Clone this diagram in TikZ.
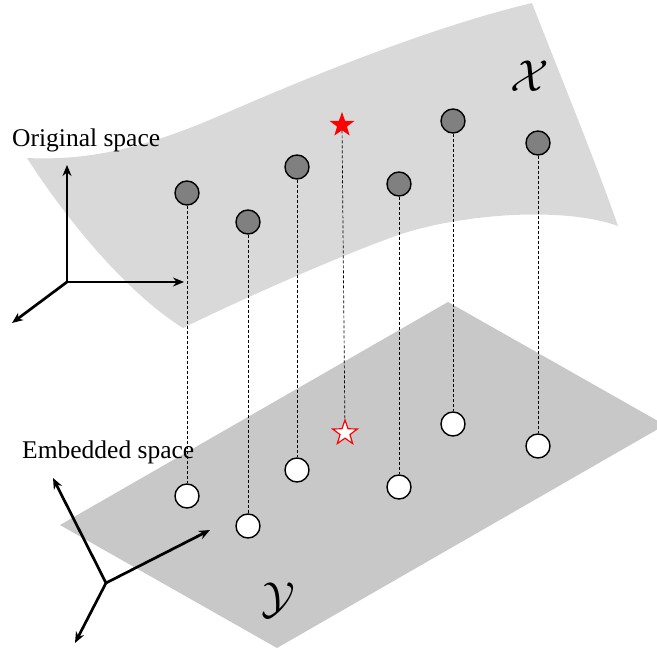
\documentclass[tikz,border=0pt]{standalone}
\usepackage{fontspec}
\setmainfont{Liberation Serif}
\usetikzlibrary{shapes.geometric,arrows.meta}
\definecolor{topsurf}{RGB}{217,217,217}
\definecolor{botsurf}{RGB}{200,200,200}
\definecolor{dotgray}{RGB}{128,128,128}
\begin{document}
\begin{tikzpicture}[x=1pt,y=-1pt,
  topdot/.style={circle,draw=black,fill=dotgray,line width=1.4pt,minimum size=24pt,inner sep=0pt},
  botdot/.style={circle,draw=black,fill=white,line width=1.4pt,minimum size=24pt,inner sep=0pt},
  starbase/.style={star,star points=5,star point ratio=2.5,minimum size=26pt,inner sep=0pt},
  proj/.style={line width=0.7pt,dash pattern=on 3pt off 2pt},
  axisarrow/.style={line width=2.7pt,-{Stealth[length=11pt,width=9pt]}},
  lbl/.style={font=\fontsize{25.5}{29}\selectfont,inner sep=0pt},
  mlbl/.style={font=\fontsize{24.88}{28}\selectfont,inner sep=0pt,scale=1.8}
]
\useasboundingbox (0,0) rectangle (657,652);

% original space surface
\fill[topsurf] (27,158)
  .. controls (110,162) and (175,135) .. (233,110)
  .. controls (330,68) and (440,25) .. (532,3)
  .. controls (560,75) and (595,160) .. (618,226)
  .. controls (560,205) and (450,215) .. (390,238)
  .. controls (330,260) and (240,300) .. (183,328)
  .. controls (130,295) and (70,225) .. (27,158)
  -- cycle;

% embedded space plane
\fill[botsurf] (60,525) -- (448,302) -- (665,425) -- (277,648) -- cycle;

% labels
\node[lbl,anchor=base west] (orig) at (12,147) {Original space};
\node[lbl,anchor=base west] (emb) at (22,459) {Embedded space};
\node[mlbl] (X) at (530,76) {$\mathcal{X}$};
\node[mlbl] (Y) at (278,600) {$\mathcal{Y}$};

% axes (original)
\coordinate (o1) at (67,282);
\coordinate (o1z) at (67,165);
\coordinate (o1x) at (184,282);
\coordinate (o1y) at (12,323);
\draw[axisarrow] (o1) -- (o1z);
\draw[axisarrow] (o1) -- (o1x);
\draw[axisarrow] (o1) -- (o1y);

% axes (embedded)
\coordinate (o2) at (106,583);
\coordinate (o2z) at (53,478);
\coordinate (o2x) at (210,530);
\coordinate (o2y) at (75,643);
\draw[axisarrow] (o2) -- (o2z);
\draw[axisarrow] (o2) -- (o2x);
\draw[axisarrow] (o2) -- (o2y);

% points in original space
\node[topdot] (t1) at (187,193) {};
\node[topdot] (t2) at (248,222) {};
\node[topdot] (t3) at (297,167) {};
\node[starbase,fill=red] (ts) at (342,125) {};
\node[topdot] (t5) at (399,184) {};
\node[topdot] (t6) at (453,121) {};
\node[topdot] (t7) at (538,143) {};

% points in embedded space
\node[botdot] (b1) at (187,496) {};
\node[botdot] (b2) at (248,526) {};
\node[botdot] (b3) at (297,470) {};
\node[starbase,draw=red,fill=white,line width=1.2pt] (bs) at (345,433) {};
\node[botdot] (b5) at (399,487) {};
\node[botdot] (b6) at (453,424) {};
\node[botdot] (b7) at (538,446) {};

% projections
\draw[proj] (t1) -- (b1);
\draw[proj] (t2) -- (b2);
\draw[proj] (t3) -- (b3);
\draw[proj] (ts) -- (bs);
\draw[proj] (t5) -- (b5);
\draw[proj] (t6) -- (b6);
\draw[proj] (t7) -- (b7);
\end{tikzpicture}
\end{document}
